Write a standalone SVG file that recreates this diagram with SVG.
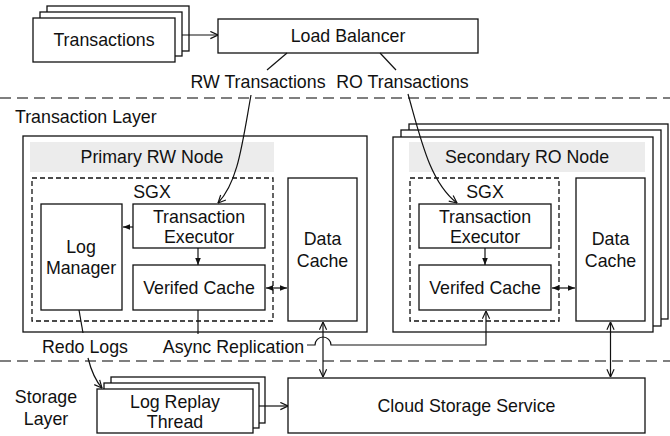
<svg xmlns="http://www.w3.org/2000/svg" width="670" height="436" viewBox="0 0 670 436">
  <style>
    text { font-family: "Liberation Sans", Arial, Helvetica, sans-serif; font-size: 17.8px; fill: #111; text-anchor: middle; }
    .box { fill: #fff; stroke: #111; stroke-width: 1.3; }
    .hdr { fill: #ececec; stroke: none; }
    .sgx { fill: none; stroke: #111; stroke-width: 1.3; stroke-dasharray: 5 3; }
    .layer { fill: none; stroke: #555; stroke-width: 1.5; stroke-dasharray: 11 6; }
    .ln { fill: none; stroke: #111; stroke-width: 1.2; }
    .open { marker-end: url(#open); }
    .open2 { marker-start: url(#open); marker-end: url(#open); }
    .fil { marker-end: url(#fill); }
    .fil2 { marker-start: url(#fill); marker-end: url(#fill); }
  </style>
  <defs>
    <marker id="open" viewBox="0 0 10 10" refX="9.5" refY="5" markerWidth="9" markerHeight="9" markerUnits="userSpaceOnUse" orient="auto-start-reverse">
      <path d="M1,1 L9.5,5 L1,9" fill="none" stroke="#111" stroke-width="1.3"/>
    </marker>
    <marker id="fill" viewBox="0 0 10 10" refX="10" refY="5" markerWidth="7" markerHeight="7" markerUnits="userSpaceOnUse" orient="auto-start-reverse">
      <path d="M0,1 L10,5 L0,9 z" fill="#111"/>
    </marker>
  </defs>

  <rect width="670" height="436" fill="#fff"/>

  <!-- layer separators -->
  <line class="layer" x1="0" y1="98" x2="670" y2="98"/>
  <line class="layer" x1="0" y1="361" x2="670" y2="361"/>
  <text x="15" y="123" style="text-anchor:start">Transaction Layer</text>
  <text x="46" y="403">Storage</text>
  <text x="46" y="425">Layer</text>

  <!-- client transactions (stacked) -->
  <g id="transactions">
    <rect class="box" x="47" y="6" width="142" height="45"/>
    <rect class="box" x="40" y="12" width="142" height="44"/>
    <rect class="box" x="33" y="18" width="142" height="44"/>
    <text x="104" y="46">Transactions</text>
  </g>

  <g id="load-balancer">
    <rect class="box" x="218" y="19" width="260" height="34"/>
    <text x="348" y="42">Load Balancer</text>
  </g>

  <!-- primary read-write node -->
  <g id="primary-node">
    <rect class="box" x="23" y="136" width="344" height="196"/>
    <rect class="hdr" x="30" y="142" width="244" height="30"/>
    <text x="152" y="163">Primary RW Node</text>
    <rect class="sgx" x="32" y="178" width="241" height="143"/>
    <text x="152" y="198">SGX</text>
  </g>
  <g id="log-manager">
    <rect class="box" x="41" y="204" width="81" height="106"/>
    <text x="81" y="253">Log</text>
    <text x="81" y="274">Manager</text>
  </g>
  <g id="primary-executor">
    <rect class="box" x="133" y="204" width="132" height="44"/>
    <text x="199" y="223">Transaction</text>
    <text x="199" y="243">Executor</text>
  </g>
  <g id="primary-verified-cache">
    <rect class="box" x="133" y="265" width="132" height="45"/>
    <text x="199" y="294">Verifed Cache</text>
  </g>
  <g id="primary-data-cache">
    <rect class="box" x="288" y="178" width="69" height="143"/>
    <text x="322.5" y="245">Data</text>
    <text x="322.5" y="267">Cache</text>
  </g>

  <!-- secondary read-only nodes (stacked) -->
  <g id="secondary-node">
    <rect class="box" x="409" y="124" width="259" height="195"/>
    <rect class="box" x="401" y="130" width="260" height="196"/>
    <rect class="box" x="393" y="137" width="260" height="195"/>
    <rect class="hdr" x="409" y="142" width="236" height="30"/>
    <text x="527" y="163">Secondary RO Node</text>
    <rect class="sgx" x="410" y="178" width="149" height="143"/>
    <text x="485" y="198">SGX</text>
  </g>
  <g id="secondary-executor">
    <rect class="box" x="419" y="204" width="132" height="44"/>
    <text x="485" y="223">Transaction</text>
    <text x="485" y="243">Executor</text>
  </g>
  <g id="secondary-verified-cache">
    <rect class="box" x="419" y="265" width="132" height="45"/>
    <text x="485" y="294">Verifed Cache</text>
  </g>
  <g id="secondary-data-cache">
    <rect class="box" x="576" y="178" width="69" height="143"/>
    <text x="610.5" y="245">Data</text>
    <text x="610.5" y="267">Cache</text>
  </g>

  <!-- storage layer -->
  <g id="log-replay">
    <rect class="box" x="111" y="377" width="154" height="46"/>
    <rect class="box" x="104" y="383" width="155" height="45"/>
    <rect class="box" x="97" y="389" width="156" height="44"/>
    <text x="175" y="408">Log Replay</text>
    <text x="175" y="428">Thread</text>
  </g>
  <g id="cloud-storage">
    <rect class="box" x="288" y="378" width="357" height="55"/>
    <text x="466.5" y="412">Cloud Storage Service</text>
  </g>

  <!-- connectors -->
  <g id="connectors">
    <line class="ln open" x1="182" y1="35" x2="218" y2="35"/>
    <line class="ln" x1="287" y1="53" x2="267" y2="70"/>
    <text x="258" y="88">RW Transactions</text>
    <path class="ln open" d="M251,95 C242,145 238,182 218,203"/>
    <line class="ln" x1="380" y1="53" x2="396" y2="70"/>
    <text x="402.5" y="88">RO Transactions</text>
    <path class="ln open" d="M408,94 C421,140 430,182 457,203"/>

    <line class="ln fil" x1="133" y1="227" x2="123" y2="227"/>
    <line class="ln fil" x1="198" y1="248" x2="198" y2="265"/>
    <line class="ln fil2" x1="266" y1="288" x2="287" y2="288"/>
    <line class="ln fil" x1="485" y1="248" x2="485" y2="265"/>
    <line class="ln fil2" x1="552" y1="288" x2="575" y2="288"/>

    <line class="ln open2" x1="323" y1="322" x2="323" y2="377"/>
    <line class="ln open2" x1="610.5" y1="322" x2="610.5" y2="377"/>

    <line class="ln" x1="79" y1="310" x2="83" y2="333"/>
    <text x="85" y="353">Redo Logs</text>
    <path class="ln open" d="M88,358 C91,370 95,380 102,388"/>

    <line class="ln" x1="198" y1="310" x2="198" y2="334"/>
    <text x="233.5" y="353">Async Replication</text>
    <path class="ln open" d="M307,345 H315 A8,8 0 0 1 331,345 H486 V311"/>

    <line class="ln open" x1="259" y1="406" x2="288" y2="406"/>
  </g>
</svg>
